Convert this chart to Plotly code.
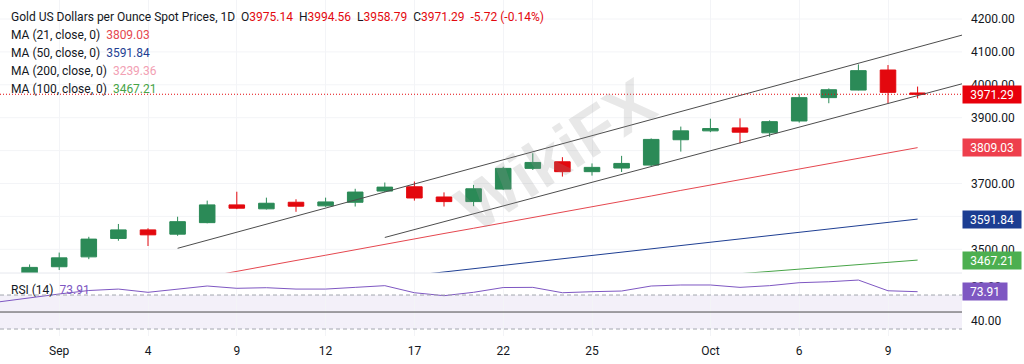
import plotly.graph_objects as go

# ---------------- data ----------------
dates = ["2025-08-28", "2025-08-29", "2025-09-01", "2025-09-02", "2025-09-03", "2025-09-04",
         "2025-09-05", "2025-09-08", "2025-09-09", "2025-09-10", "2025-09-11", "2025-09-12",
         "2025-09-15", "2025-09-16", "2025-09-17", "2025-09-18", "2025-09-19", "2025-09-22",
         "2025-09-23", "2025-09-24", "2025-09-25", "2025-09-26", "2025-09-29", "2025-09-30",
         "2025-10-01", "2025-10-02", "2025-10-03", "2025-10-06", "2025-10-07", "2025-10-08",
         "2025-10-09", "2025-10-10"]
opens = [3396, 3427, 3447, 3477, 3533, 3559, 3546, 3581, 3635, 3623, 3643, 3632,
         3643, 3677, 3690, 3659, 3645, 3683, 3746, 3766, 3736, 3747, 3756, 3833,
         3860, 3869, 3854, 3890, 3961, 3984, 4045, 3975.14]
highs = [3423, 3454, 3490, 3538, 3577, 3564, 3599, 3648, 3675, 3657, 3652, 3657,
         3684, 3703, 3706, 3673, 3696, 3751, 3792, 3780, 3761, 3784, 3837, 3873,
         3897, 3898, 3892, 3971, 3989, 4062, 4060, 3994.56]
lows = [3386, 3422, 3437, 3470, 3526, 3510, 3541, 3579, 3622, 3621, 3614, 3629,
        3630, 3674, 3648, 3630, 3631, 3680, 3741, 3721, 3724, 3735, 3753, 3797,
        3856, 3822, 3842, 3885, 3944, 3983, 3944, 3958.79]
closes = [3416, 3445, 3474, 3531, 3559, 3544, 3584, 3635, 3625, 3640, 3631, 3644,
          3674, 3689, 3656, 3645, 3684, 3746, 3764, 3736, 3749, 3761, 3834, 3860,
          3867, 3856, 3888, 3961, 3985, 4043, 3977.01, 3971.29]
ma21 = [None, None, None, None, None, None, 3400, 3417, 3433, 3450, 3466, 3482,
        3499, 3515, 3531, 3548, 3564, 3580, 3597, 3613, 3629, 3646, 3662, 3679,
        3695, 3712, 3728, 3744, 3760, 3776, 3793, 3809.03]
ma50 = [None] * 14 + [3421, 3431, 3442, 3452, 3462, 3472, 3482, 3492, 3502, 3512,
                      3522, 3532, 3542, 3552, 3562, 3572, 3582, 3591.84]
ma100 = [None] * 24 + [3419, 3426, 3433, 3440, 3447, 3454, 3460, 3467.21]
ma200_last = 3239.36
rsi = [62.1, 67.0, 71.2, 75.3, 77.0, 73.2, 77.0, 80.6, 77.9, 78.6, 77.0, 77.0,
       79.0, 81.0, 72.7, 69.2, 73.2, 78.8, 79.0, 72.7, 73.9, 74.7, 80.6, 81.8,
       81.8, 79.0, 81.0, 84.5, 85.6, 87.6, 75.0, 73.91]
# trend channel anchors (bar index, price)
upper_x = [6, 32.5]
upper_y = [3503, 4151]
lower_x = [13, 32.5]
lower_y = [3536, 4003]
tick_dates = ["2025-09-01", "2025-09-04", "2025-09-09", "2025-09-12", "2025-09-17",
              "2025-09-22", "2025-09-25", "2025-10-01", "2025-10-06", "2025-10-09"]
tick_labels = ["Sep", "4", "9", "12", "17", "22", "25", "Oct", "6", "9"]
price_grid = [3500, 3600, 3700, 3800, 3900, 4000, 4100, 4200]
price_labels = [3500, 3700, 3900, 4000, 4100, 4200]
rsi_ticks = [40, 80]

# ---------------- styling ----------------
GREEN = "#2b8a57"
RED = "#e3080e"
C_MA21 = "#e5474f"
C_MA50 = "#1f3f93"
C_MA100 = "#47a447"
C_MA200 = "#f2a0b3"
C_RSI = "#7e57c2"
TXT = "#131722"
FONT = "Roboto"

W, H = 1024, 364
M_L, M_R, M_T, M_B = 0, 62, 0, 28
PH = H - M_T - M_B
SPLIT = 273  # pixel where the price pane ends
main_dom = [1 - SPLIT / PH, 1]
rsi_dom = [0, 1 - SPLIT / PH]

x_idx = list(range(len(dates)))
x_end = 32.5


def py(px):
    return 1 - px / PH


fig = go.Figure()

fig.add_trace(go.Candlestick(
    x=x_idx, open=opens, high=highs, low=lows, close=closes,
    increasing=dict(line=dict(color=GREEN, width=1), fillcolor=GREEN),
    decreasing=dict(line=dict(color=RED, width=1), fillcolor=RED),
    whiskerwidth=0, hoverinfo="skip", xaxis="x", yaxis="y"))

for vals, col in [(ma21, C_MA21), (ma50, C_MA50), (ma100, C_MA100)]:
    fig.add_trace(go.Scatter(x=x_idx, y=vals, mode="lines",
                             line=dict(color=col, width=1), hoverinfo="skip",
                             xaxis="x", yaxis="y"))

for xs, ys in [(upper_x, upper_y), (lower_x, lower_y)]:
    fig.add_trace(go.Scatter(x=xs, y=ys, mode="lines",
                             line=dict(color="#4d4d4d", width=1), hoverinfo="skip",
                             xaxis="x", yaxis="y"))

# last price dotted line
fig.add_trace(go.Scatter(x=[0, x_end], y=[closes[-1], closes[-1]], mode="lines",
                         line=dict(color=RED, width=1, dash="1px,2px"), hoverinfo="skip",
                         xaxis="x", yaxis="y"))

# RSI
fig.add_trace(go.Scatter(x=x_idx, y=rsi, mode="lines", line=dict(color=C_RSI, width=1),
                         hoverinfo="skip", xaxis="x", yaxis="y2"))

shapes = [
    dict(type="rect", xref="x", yref="y2", x0=0, x1=x_end, y0=30, y1=70,
         fillcolor="rgba(126,87,194,0.09)", line=dict(width=0), layer="below"),
    dict(type="line", xref="x", yref="y2", x0=0, x1=x_end, y0=70, y1=70,
         line=dict(color="#a3a6af", width=1, dash="4px,3px")),
    dict(type="line", xref="x", yref="y2", x0=0, x1=x_end, y0=30, y1=30,
         line=dict(color="#a3a6af", width=1, dash="4px,3px")),
    dict(type="line", xref="x", yref="y2", x0=0, x1=x_end, y0=50, y1=50,
         line=dict(color="#4a4a4a", width=1)),
    dict(type="line", xref="paper", yref="paper", x0=0, x1=1, y0=main_dom[0], y1=main_dom[0],
         line=dict(color="#e6e8ee", width=1)),
]
# horizontal grid for every 100 level (labels only where visible in reference)
for g in price_grid:
    shapes.append(dict(type="line", xref="paper", yref="y", x0=0, x1=1, y0=g, y1=g,
                       line=dict(color="#f3f4f7", width=1), layer="below"))

ann = []
# watermark
ann.append(dict(xref="paper", yref="paper", x=555 / (W - M_R), y=py(155), text="<b>WikiFX</b>",
                showarrow=False, textangle=-33,
                font=dict(family="Liberation Sans", size=66, color="rgba(150,150,150,0.22)")))

chg = closes[-1] - closes[-2]
pct = chg / closes[-2] * 100


def red(v):
    return f"<span style='color:{RED}'>{v}</span>"


title = ("Gold US Dollars per Ounce Spot Prices, 1D&nbsp;&nbsp;"
         f"O{red(f'{opens[-1]:.2f}')}&nbsp;&nbsp;H{red(f'{highs[-1]:.2f}')}&nbsp;&nbsp;"
         f"L{red(f'{lows[-1]:.2f}')}&nbsp;&nbsp;C{red(f'{closes[-1]:.2f}')}&nbsp;&nbsp;"
         f"{red(f'{chg:.2f} ({pct:.2f}%)')}")
legend_lines = [
    title,
    f"MA (21, close, 0)&nbsp;&nbsp;<span style='color:{C_MA21}'>{ma21[-1]:.2f}</span>",
    f"MA (50, close, 0)&nbsp;&nbsp;<span style='color:{C_MA50}'>{ma50[-1]:.2f}</span>",
    f"MA (200, close, 0)&nbsp;&nbsp;<span style='color:{C_MA200}'>{ma200_last:.2f}</span>",
    f"MA (100, close, 0)&nbsp;&nbsp;<span style='color:{C_MA100}'>{ma100[-1]:.2f}</span>",
]
for i, t in enumerate(legend_lines):
    ann.append(dict(xref="paper", yref="paper", x=9 / (W - M_R), y=py(17 + 18 * i),
                    xanchor="left", yanchor="middle", text=t, showarrow=False,
                    font=dict(family=FONT, size=12, color=TXT)))
ann.append(dict(xref="paper", yref="paper", x=9 / (W - M_R), y=py(290),
                xanchor="left", yanchor="middle",
                text=f"RSI (14)&nbsp;&nbsp;<span style='color:{C_RSI}'>{rsi[-1]:.2f}</span>",
                showarrow=False, font=dict(family=FONT, size=12, color=TXT)))

# price tags
tags = [(closes[-1], "y", "#e8000b"), (ma21[-1], "y", "#ee3f4d"),
        (ma50[-1], "y", "#1c3d92"), (ma100[-1], "y", "#4caf50"), (rsi[-1], "y2", C_RSI)]
for v, yr, col in tags:
    ann.append(dict(xref="paper", yref=yr, x=1, y=v, xanchor="left", yanchor="middle",
                    text=f"{v:.2f}", showarrow=False, bgcolor=col, borderpad=2,
                    width=54 if yr == "y" else 40, height=13,
                    font=dict(family=FONT, size=12, color="white")))

tickvals_x = [dates.index(d) for d in tick_dates]

fig.update_layout(
    width=W, height=H, margin=dict(l=M_L, r=M_R, t=M_T, b=M_B),
    paper_bgcolor="white", plot_bgcolor="white", showlegend=False,
    boxgap=0.25, shapes=shapes, annotations=ann, hovermode=False,
    font=dict(family=FONT, size=12, color=TXT),
    xaxis=dict(range=[0, x_end], anchor="y2", tickvals=tickvals_x, ticktext=tick_labels,
               showgrid=True, gridcolor="#f3f4f7", zeroline=False, showline=False,
               rangeslider=dict(visible=False), ticks="", ticklabelstandoff=6,
               tickfont=dict(family=FONT, size=12, color=TXT)),
    yaxis=dict(domain=main_dom, range=[3427.97, 4257.75], side="right", anchor="x",
               tickvals=price_labels, ticktext=[f"{v:.2f}" for v in price_labels],
               showgrid=False, zeroline=False, ticks="",
               ticklabelstandoff=8, tickfont=dict(family=FONT, size=12, color=TXT)),
    yaxis2=dict(domain=rsi_dom, range=[21.8, 95.9], side="right", anchor="x",
                tickvals=rsi_ticks, ticktext=[f"{v:.2f}" for v in rsi_ticks],
                showgrid=False, zeroline=False, ticks="", ticklabelstandoff=8,
                tickfont=dict(family=FONT, size=12, color=TXT)),
)

fig.write_html("out.html")
